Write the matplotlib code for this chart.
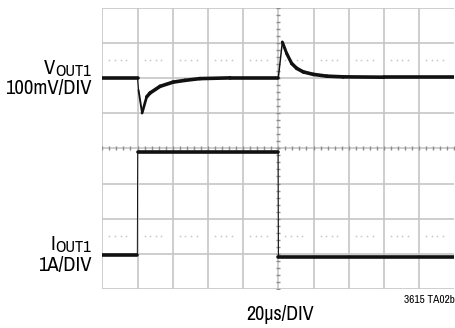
import numpy as np
import matplotlib
matplotlib.use("Agg")
import matplotlib.pyplot as plt
from matplotlib.collections import LineCollection

# scope settings
T_DIV = 20.0        # us per division
V_DIV = 100.0       # mV per division
I_DIV = 1.0         # A per division
V_POS = 6.0         # V trace zero position (divisions from bottom)
I_POS = 0.9         # I trace zero position (divisions from bottom)

# VOUT1 deviation (mV) vs time (us)
v_t = [0, 20.0, 20.6, 22.6, 25.2, 27.1, 32.8, 40.2, 47.0, 55.5, 72.6, 99.9,
       100.0, 102.3, 104.8, 107.6, 110.5, 114.2, 119.9, 127.5, 136.8, 160.0, 201.0]
v_mv = [0, 0, -35, -100, -54, -43, -24, -12, -7, -2, 0, 0,
        0, 102, 69, 41, 27, 17, 10, 5, 3, 2, 2]

# IOUT1 load step (A) vs time (us)
i_t = [0, 19.9, 20.1, 99.9, 100.1, 201.0]
i_a = [0.07, 0.07, 3.0, 3.0, 0.02, 0.02]

GRID = "#c6c6c6"
TICK = "#8c8c8c"
plt.rcParams["font.family"] = ["Archivo Narrow", "DejaVu Sans"]
plt.rcParams["font.stretch"] = "condensed"

W, H = 455, 328
fig = plt.figure(figsize=(W / 100, H / 100), dpi=100)

def px(x, y):
    return x / W, 1 - y / H

left, top, div = 102.3, 7.5, 35.2
ax = fig.add_axes([left / W, (H - top - 8 * div) / H, 10 * div / W, 8 * div / H])
ax.set_xlim(0, 10)
ax.set_ylim(0, 8)
ax.axis("off")

# graticule
for k in range(10):
    ax.axvline(k, color=GRID, lw=1.2, zorder=1)
for k in range(9):
    ax.axhline(k, color=GRID, lw=1.2, zorder=1)

# dotted reference rows
frac = np.array([0.2, 0.36, 0.52, 0.68])
dots = (np.arange(10)[:, None] + frac[None, :]).ravel()
for yr in (6.5, 1.5):
    ax.plot(dots, np.full_like(dots, yr), ls="none", marker="s", ms=1.1,
            color=GRID, mec="none", zorder=1)

# minor ticks on the centre cross
mt = np.arange(0, 10.01, 0.2)
ax.plot(mt, np.full_like(mt, 4), ls="none", marker="|", ms=3.5, mew=1.0, color=TICK, zorder=2)
mt = np.arange(0, 8.01, 0.2)
ax.plot(np.full_like(mt, 5), mt, ls="none", marker="_", ms=3.5, mew=1.0, color=TICK, zorder=2)

def trace(t, val, pos, scale, thick=2.6, thin=0.7):
    x = np.asarray(t) / T_DIV
    y = pos + np.asarray(val) / scale
    segs = np.stack([np.column_stack([x[:-1], y[:-1]]),
                     np.column_stack([x[1:], y[1:]])], axis=1)
    slope = np.abs(np.diff(y)) / np.maximum(np.diff(x), 1e-6)
    lw = np.maximum(thin, thick / np.sqrt(1 + (slope / 4.0) ** 2))
    ax.add_collection(LineCollection(segs, linewidths=lw, colors="#111111",
                                     capstyle="round", zorder=3))

trace(v_t, v_mv, V_POS, V_DIV)
trace(i_t, i_a, I_POS, I_DIV)

# channel labels
fs = 14.8
def chan_label(main, sub, scale, y_main, y_scale):
    s = fig.text(*px(90.7, y_main + 2), sub, fontsize=fs * 0.8, ha="right", va="baseline")
    fig.canvas.draw()
    bb = s.get_window_extent()
    fig.text(bb.x0 / W, 1 - y_main / H, main, fontsize=fs, ha="right", va="baseline")
    fig.text(*px(91.7, y_scale), scale, fontsize=fs, ha="right", va="baseline")

chan_label("V", "OUT1", "100mV/DIV", 74, 94)
chan_label("I", "OUT1", "1A/DIV", 250, 271.5)

fig.text(*px(280.5, 320), "20µs/DIV", fontsize=14.5, ha="center", va="baseline")
fig.text(*px(454.8, 303), "3615 TA02b", fontsize=8.2, ha="right", va="baseline")

fig.savefig("out.png", dpi=100)
